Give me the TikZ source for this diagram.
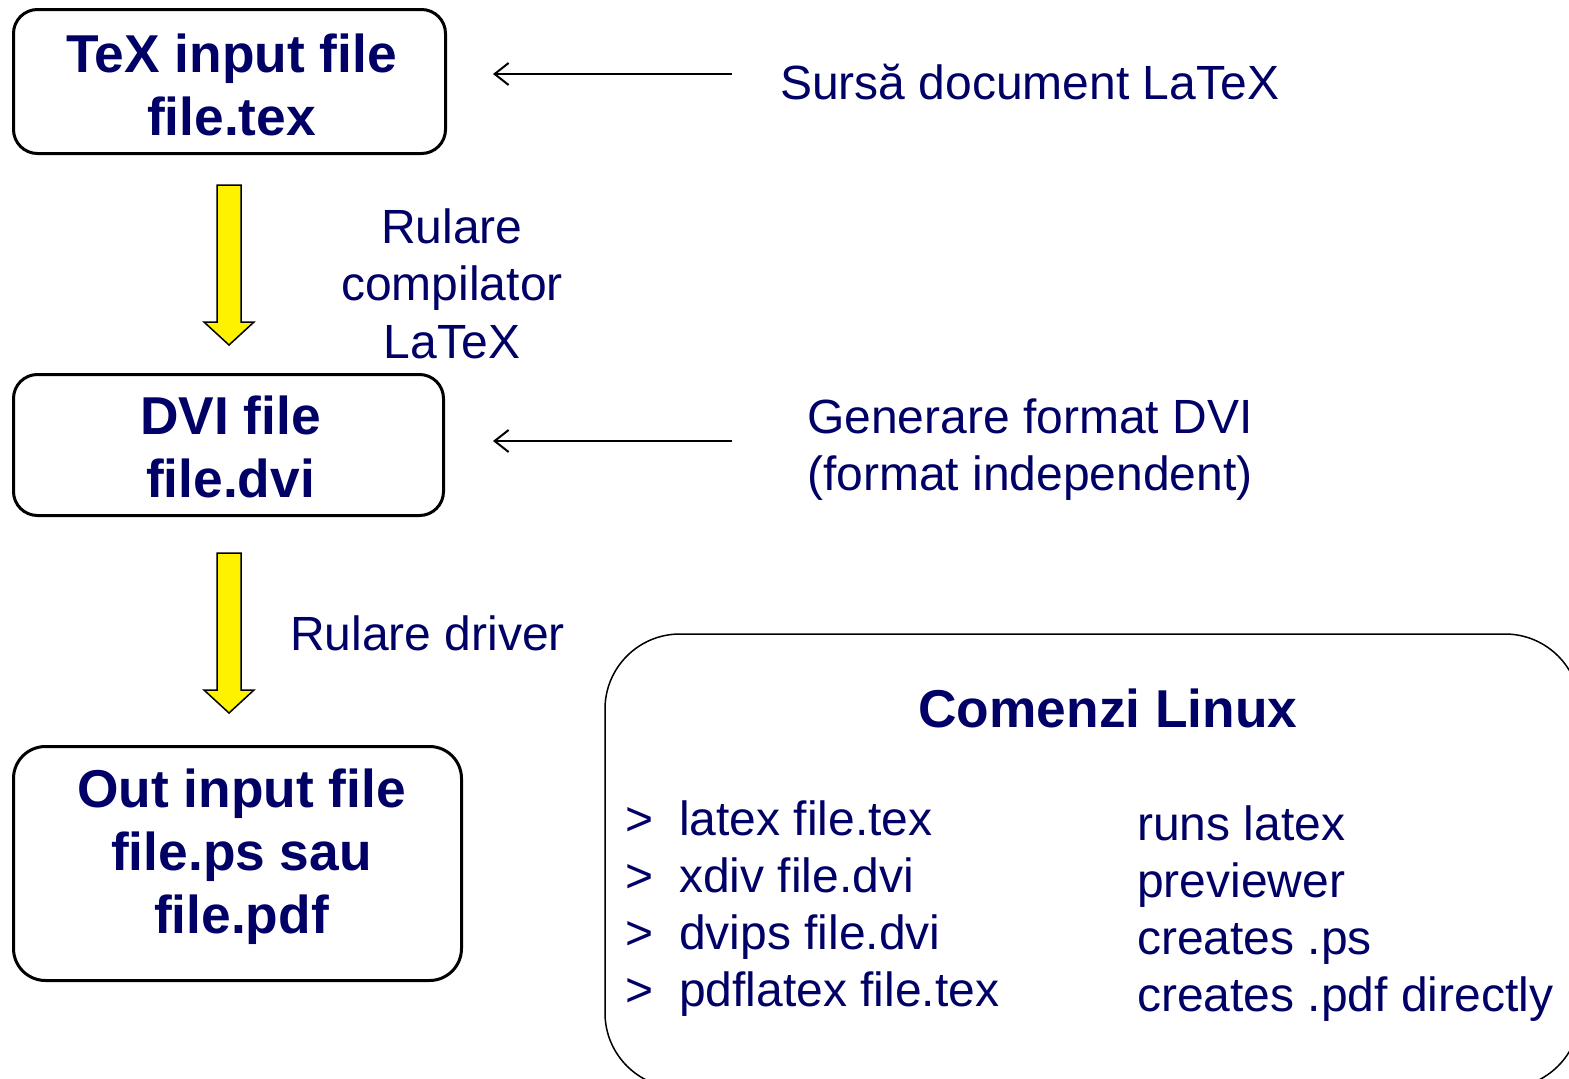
\documentclass[tikz,border=0pt]{standalone}
\usepackage{fontspec}
\setmainfont{Liberation Sans}
\usetikzlibrary{arrows.meta,calc}
\definecolor{navy}{RGB}{0,0,102}
\newcommand\regfont{\fontsize{48}{57.5}\selectfont}
\newcommand\boldfont{\fontsize{53.3}{63}\selectfont\bfseries}
\tikzset{
  filebox/.style={draw=black,line width=3pt,fill=white,rounded corners=24pt,inner sep=0pt},
  filetext/.style={text=navy,font=\boldfont,align=center,inner sep=0pt},
  lbl/.style={text=navy,font=\regfont,inner sep=0pt},
  pointer/.style={draw=black,line width=2pt,-{Straight Barb[length=14pt,width=22pt,line width=2pt]}},
  blockarrow/.style={draw=black,line width=1.5pt,fill=yellow,line join=miter},
}
\begin{document}
\begin{tikzpicture}[x=1pt,y=-1pt]
\useasboundingbox (0,0) rectangle (1569,1079);

% file boxes
\node[filebox,minimum width=432pt,minimum height=144pt] (box1) at (229.5,81.5) {};
\node[filetext] (t1) at ($(box1.center)+(2,3)$) {TeX input file\\file.tex};

\node[filebox,minimum width=430pt,minimum height=141pt] (box2) at (228.5,445) {};
\node[filetext] (t2) at ($(box2.center)+(2,2)$) {DVI file\\file.dvi};

\node[filebox,rounded corners=32pt,minimum width=448pt,minimum height=234pt] (box3) at (237.5,863.5) {};
\node[filetext] (t3) at ($(box3.center)+(4,-7)$) {Out input file\\file.ps sau\\file.pdf};

% yellow block arrows between the file boxes
\draw[blockarrow] ($(box1.south)+(-12.5,30)$) -- ++(24,0) -- ++(0,137) -- ++(13,0)
  -- ++(-25,23) -- ++(-25,-23) -- ++(13,0) -- cycle;
\draw[blockarrow] ($(box2.south)+(-11.5,36)$) -- ++(24,0) -- ++(0,137) -- ++(13,0)
  -- ++(-25,23) -- ++(-25,-23) -- ++(13,0) -- cycle;

% step labels
\node[lbl,align=center] (run1) at (452,283.5) {Rulare\\compilator\\LaTeX};
\node[lbl,anchor=base west] (run2) at (290,650) {Rulare driver};

% descriptions with pointers
\node[lbl,anchor=base west] (lab1) at (780,99) {Sursă document LaTeX};
\node[lbl,align=left,anchor=west] (lab2) at (807,449.5) {Generare format DVI\\(format independent)};
\draw[pointer] ($(lab1.base west)+(-48,-25)$) -- ($(box1.east)+(46,-7.5)$);
\draw[pointer] ($(lab2.west)+(-75,-8.5)$) -- ($(box2.east)+(48,-4)$);

% Linux commands panel
\begin{scope}
\clip (0,0) rectangle (1569,1079);
\node[draw=black,line width=1.5pt,rounded corners=75pt,minimum width=975pt,minimum height=454pt,inner sep=0pt] (cmdbox) at (1092.5,861) {};
\end{scope}
\node[text=navy,font=\boldfont,inner sep=0pt,anchor=base] (cmdtitle) at (1108,727) {Comenzi Linux};

\foreach \i/\cmd/\what in {0/latex file.tex/runs latex,1/xdiv file.dvi/previewer,2/dvips file.dvi/creates .ps,3/pdflatex file.tex/creates .pdf directly}{
  \node[lbl,anchor=base west] (gt\i) at (625,835+57*\i) {>};
  \node[lbl,anchor=base west] (cmd\i) at (679,835+57*\i) {\cmd};
  \node[lbl,anchor=base west] (what\i) at (1137,840+57*\i) {\what};
}
\end{tikzpicture}
\end{document}
